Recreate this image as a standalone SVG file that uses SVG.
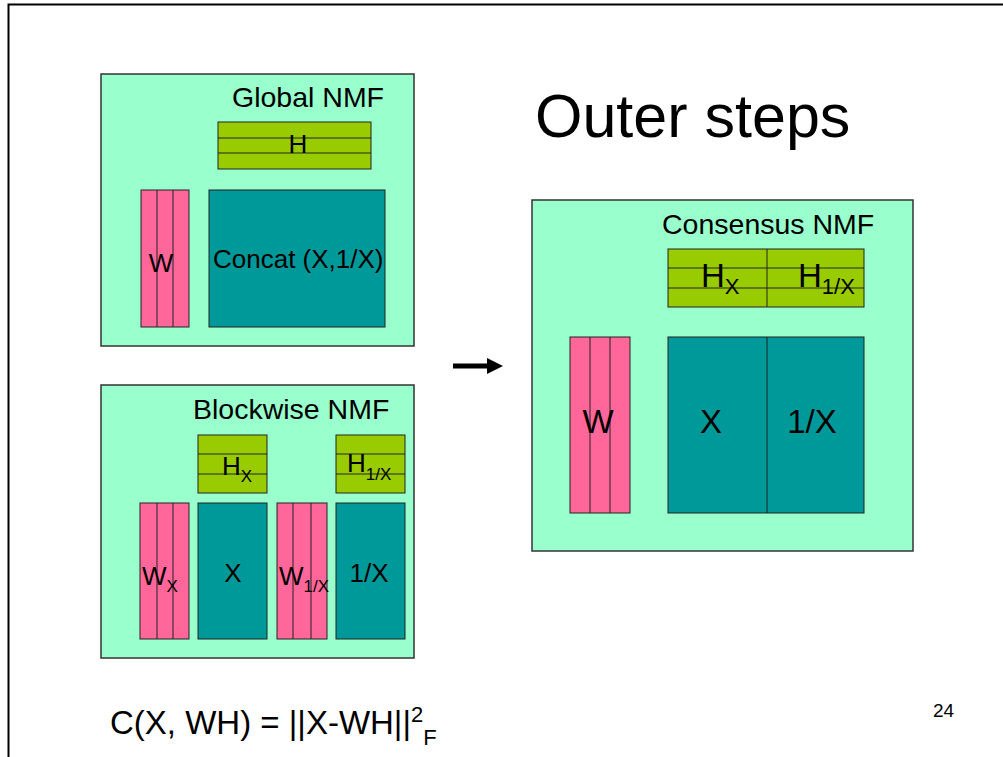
<svg xmlns="http://www.w3.org/2000/svg" width="1003" height="757" viewBox="0 0 1003 757">
  <style>
    text { font-family: "Liberation Sans", Arial, sans-serif; fill: #000; }
    .panel { fill: #99FFCC; stroke: #333; stroke-width: 1.5; }
    .w { fill: #FF6699; stroke: #222; stroke-width: 1; }
    .h { fill: #99CC00; stroke: #222; stroke-width: 1; }
    .data { fill: #009999; stroke: #222; stroke-width: 1; }
    .div { stroke: #222; stroke-width: 1; fill: none; }
    .t20 { font-size: 28.5px; }
    .t18 { font-size: 26px; }
    .t24 { font-size: 33px; }
  </style>
  <defs>
    <marker id="head" viewBox="0 0 10 10" refX="0" refY="5" markerWidth="3.2" markerHeight="3.2" orient="auto" markerUnits="strokeWidth">
      <path d="M0,0 L10,5 L0,10 z" fill="#000"/>
    </marker>
  </defs>

  <rect width="1003" height="757" fill="#fff"/>
  <!-- slide frame edges -->
  <path d="M8.5,757 V4.5 H1003" fill="none" stroke="#000" stroke-width="2"/>

  <text x="535" y="137" font-size="61">Outer steps</text>

  <!-- Global NMF -->
  <g id="global-nmf">
    <rect class="panel" x="101" y="74" width="313" height="272"/>
    <text class="t20" x="232" y="107">Global NMF</text>
    <rect class="h" x="218" y="122" width="153" height="47"/>
    <path class="div" d="M218,138 H371 M218,153 H371"/>
    <text class="t18" x="298" y="153" text-anchor="middle">H</text>
    <rect class="w" x="141" y="190" width="48" height="137"/>
    <path class="div" d="M157,190 V327 M173,190 V327"/>
    <text class="t18" x="161" y="272" text-anchor="middle">W</text>
    <rect class="data" x="209" y="190" width="176" height="137"/>
    <text class="t18" x="213" y="268">Concat (X,1/X)</text>
  </g>

  <!-- Blockwise NMF -->
  <g id="blockwise-nmf">
    <rect class="panel" x="101" y="385" width="313" height="273"/>
    <text class="t20" x="193" y="419">Blockwise NMF</text>
    <rect class="h" x="198" y="435" width="69" height="58"/>
    <path class="div" d="M198,454 H267 M198,474 H267"/>
    <text class="t18" x="222" y="475">H<tspan font-size="17" dy="7">X</tspan></text>
    <rect class="h" x="336" y="435" width="69" height="58"/>
    <path class="div" d="M336,454 H405 M336,474 H405"/>
    <text class="t18" x="347" y="472">H<tspan font-size="17" dy="8">1/X</tspan></text>
    <rect class="w" x="140" y="503" width="49" height="136"/>
    <path class="div" d="M157,503 V639 M173,503 V639"/>
    <text class="t18" x="142" y="585">W<tspan font-size="17" dy="7">X</tspan></text>
    <rect class="data" x="198" y="503" width="69" height="136"/>
    <text class="t18" x="233" y="582" text-anchor="middle">X</text>
    <rect class="w" x="277" y="503" width="50" height="136"/>
    <path class="div" d="M293,503 V639 M311,503 V639"/>
    <text class="t18" x="279" y="585">W<tspan font-size="17" dy="7">1/X</tspan></text>
    <rect class="data" x="336" y="503" width="69" height="136"/>
    <text class="t18" x="369" y="582" text-anchor="middle">1/X</text>
  </g>

  <!-- Consensus NMF -->
  <g id="consensus-nmf">
    <rect class="panel" x="532" y="200" width="381" height="351"/>
    <text class="t20" x="662" y="234">Consensus NMF</text>
    <rect class="h" x="668" y="249" width="196" height="58"/>
    <path class="div" d="M668,268 H864 M668,288 H864 M767,249 V307"/>
    <text class="t24" x="701" y="287">H<tspan font-size="22" dy="7">X</tspan></text>
    <text class="t24" x="798" y="287">H<tspan font-size="22" dy="7">1/X</tspan></text>
    <rect class="w" x="570" y="337" width="60" height="176"/>
    <path class="div" d="M590,337 V513 M610,337 V513"/>
    <text class="t24" x="598" y="433" text-anchor="middle">W</text>
    <rect class="data" x="668" y="337" width="196" height="176"/>
    <path class="div" d="M767,337 V513"/>
    <text class="t24" x="711" y="433" text-anchor="middle">X</text>
    <text class="t24" x="812" y="433" text-anchor="middle">1/X</text>
  </g>

  <!-- connectors -->
  <g id="connectors">
    <path d="M453,366 H487" stroke="#000" stroke-width="5" fill="none" marker-end="url(#head)"/>
  </g>

  <text x="110" y="734" font-size="33">C(X, WH) = ||X-WH||<tspan font-size="22" dy="-12">2</tspan><tspan font-size="22" dy="23">F</tspan></text>
  <text x="933" y="717" font-size="19">24</text>
</svg>
